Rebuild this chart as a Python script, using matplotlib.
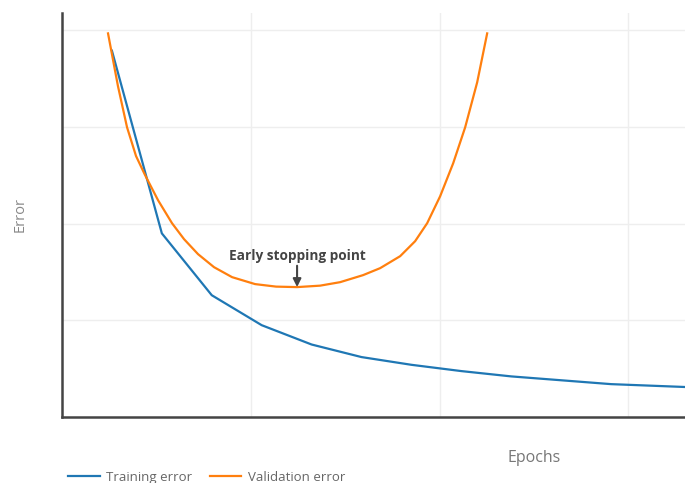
"""Training vs validation error with early stopping point."""

import matplotlib
matplotlib.use("Agg")
import matplotlib.pyplot as plt

plt.rcParams["font.family"] = ["Open Sans", "DejaVu Sans"]

# training error, one point per epoch
train_epochs = [1, 2, 3, 4, 5, 6, 7, 8, 9, 10, 11, 12, 13]
train_error = [3.79, 1.90, 1.26, 0.95, 0.75, 0.62, 0.54, 0.475, 0.42, 0.38, 0.34, 0.32, 0.30]

# validation error
val_epochs = [0.922, 1.122, 1.303, 1.483, 1.663, 1.924, 2.204, 2.445, 2.725, 3.046,
              3.407, 3.868, 4.289, 4.709, 5.170, 5.571, 6.032, 6.373, 6.774, 7.074,
              7.315, 7.575, 7.836, 8.076, 8.317, 8.517]
val_error = [3.969, 3.421, 2.997, 2.700, 2.504, 2.243, 2.005, 1.840, 1.685, 1.550,
             1.447, 1.375, 1.349, 1.344, 1.359, 1.395, 1.468, 1.540, 1.664, 1.819,
             2.005, 2.284, 2.625, 2.997, 3.463, 3.969]

stop_epoch = 4.709
stop_error = 1.344

fig = plt.figure(figsize=(6.85, 4.83), dpi=100)
ax = fig.add_axes([62 / 685, 66 / 483, 623 / 685, 404 / 483])

ax.plot(train_epochs, train_error, color="#1f77b4", lw=1.6, label="Training error")
ax.plot(val_epochs, val_error, color="#ff7f0e", lw=1.6, label="Validation error")

ax.annotate("Early stopping point", xy=(stop_epoch, stop_error),
            xytext=(stop_epoch, stop_error + 0.25),
            ha="center", va="bottom", fontsize=9.8, fontweight="bold", color="#444444",
            arrowprops=dict(arrowstyle="-|>", color="#444444", lw=1.5,
                            mutation_scale=12, shrinkA=0, shrinkB=0))

ax.set_xlim(0, 12.48)
ax.set_ylim(0, 4.18)
ax.set_xticks([3.785, 7.565, 11.345])
ax.set_yticks([1, 2, 3, 4])
ax.tick_params(length=0, labelbottom=False, labelleft=False)
ax.grid(True, color="#eeeeee", lw=1)
ax.set_axisbelow(True)

for side in ["top", "right"]:
    ax.spines[side].set_visible(False)
for side in ["left", "bottom"]:
    ax.spines[side].set_color("#444444")
    ax.spines[side].set_linewidth(1.8)

fig.text(20 / 685, 1 - 215 / 483, "Error", rotation=90, ha="center", va="center",
         fontsize=10.5, color="#888888")
fig.text(534 / 685, 1 - 458 / 483, "Epochs", ha="center", va="center",
         fontsize=11.5, color="#777777")

fig.legend(loc="upper left", bbox_to_anchor=(68 / 685, 1 - 471 / 483), ncol=2,
           frameon=False, fontsize=9.5, labelcolor="#666666", handlelength=2.4,
           handletextpad=0.5, columnspacing=1.3, borderaxespad=0, borderpad=0)

fig.savefig("out.png", dpi=100)
